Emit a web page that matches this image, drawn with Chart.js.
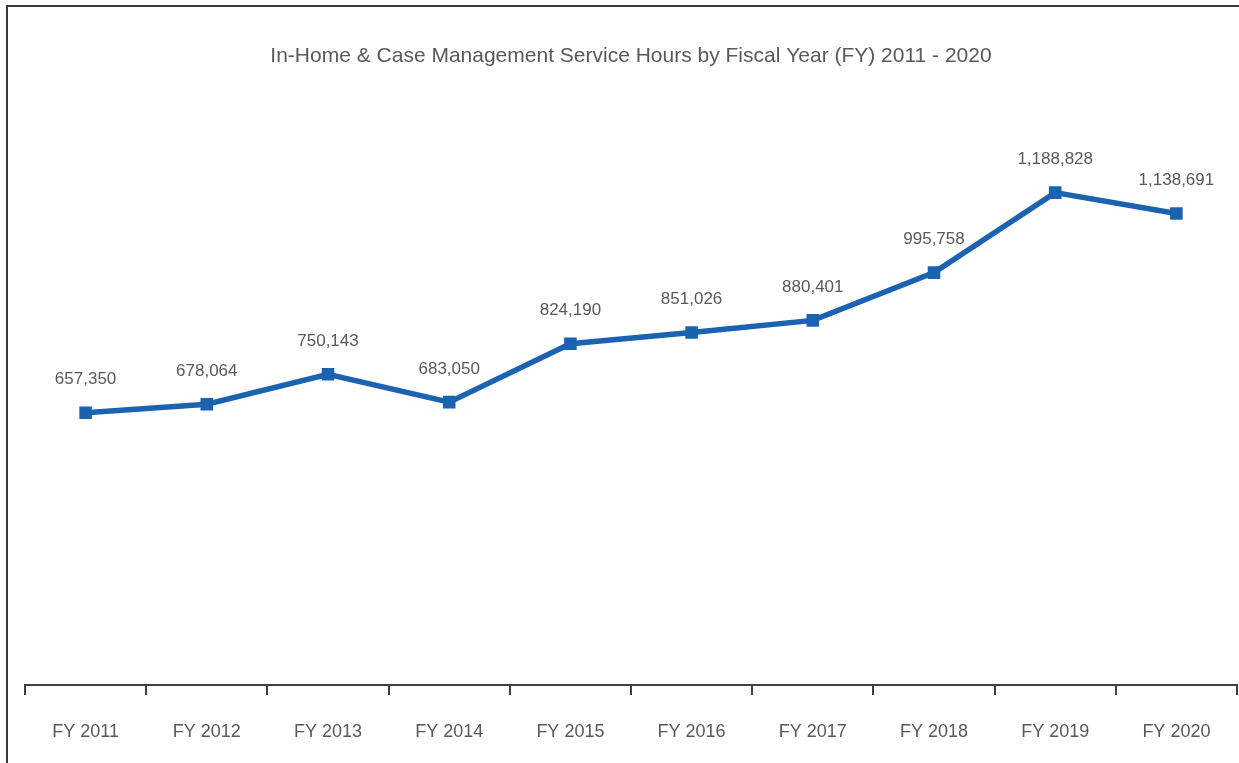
<!DOCTYPE html>
<html>
<head>
<meta charset="utf-8">
<script src="https://cdn.jsdelivr.net/npm/chart.js@4"></script>
<style>
  html, body { margin: 0; padding: 0; background: #fff; }
  #wrap { position: relative; width: 1239px; height: 763px; }
  #frame { position: absolute; left: 6px; top: 5px; right: 0; bottom: 0;
           border-left: 2px solid #3a3a3a; border-top: 2px solid #3a3a3a; pointer-events: none; }
</style>
</head>
<body>
<div id="wrap">
  <canvas id="chartHours" width="1239" height="763"></canvas>
  <div id="frame"></div>
</div>
<script>
// ── Data ─────────────────────────────────
const years = ['FY 2011', 'FY 2012', 'FY 2013', 'FY 2014', 'FY 2015', 'FY 2016', 'FY 2017', 'FY 2018', 'FY 2019', 'FY 2020'];
const serviceHours = [657350, 678064, 750143, 683050, 824190, 851026, 880401, 995758, 1188828, 1138691];
const chartTitle = 'In-Home & Case Management Service Hours by Fiscal Year (FY) 2011 - 2020';

const fontFamily = "'Liberation Sans Narrow', 'Arial Narrow', 'Liberation Sans', sans-serif";
const lineBlue = '#1B63B1';
const textGrey = '#595959';
const axisColor = '#404040';

// draws the value above each point
const pointLabels = {
    id: 'pointLabels',
    afterDatasetsDraw(chart) {
        const ctx = chart.ctx;
        const meta = chart.getDatasetMeta(0);
        ctx.save();
        ctx.font = '17px ' + fontFamily;
        ctx.fillStyle = textGrey;
        ctx.textAlign = 'center';
        ctx.textBaseline = 'middle';
        meta.data.forEach((pt, i) => {
            ctx.fillText(serviceHours[i].toLocaleString('en-US'), pt.x, pt.y - 33);
        });
        ctx.restore();
    }
};

new Chart(document.getElementById('chartHours'), {
    type: 'line',
    data: {
        labels: years,
        datasets: [{
            data: serviceHours,
            borderColor: lineBlue, backgroundColor: lineBlue,
            borderWidth: 5.5, pointStyle: 'rect', pointRadius: 5,
            tension: 0, fill: false
        }]
    },
    options: {
        responsive: false, animation: false,
        layout: { autoPadding: false, padding: { left: 25, right: 2, top: 0, bottom: 0 } },
        plugins: {
            legend: { display: false },
            tooltip: { enabled: false },
            title: {
                display: true, text: chartTitle, color: textGrey,
                font: { family: fontFamily, size: 21, weight: 'normal' },
                padding: { top: 44, bottom: 36 }
            }
        },
        scales: {
            x: {
                offset: true,
                grid: { offset: true, drawOnChartArea: false, drawTicks: true, tickLength: 10, color: axisColor, lineWidth: 2 },
                border: { display: true, color: axisColor, width: 2 },
                ticks: { color: textGrey, padding: 26, font: { family: fontFamily, size: 18 } },
                afterFit(scale) { scale.height = 78; }
            },
            y: { display: false, min: 0, max: 1400000 }
        }
    },
    plugins: [pointLabels]
});
</script>
</body>
</html>
